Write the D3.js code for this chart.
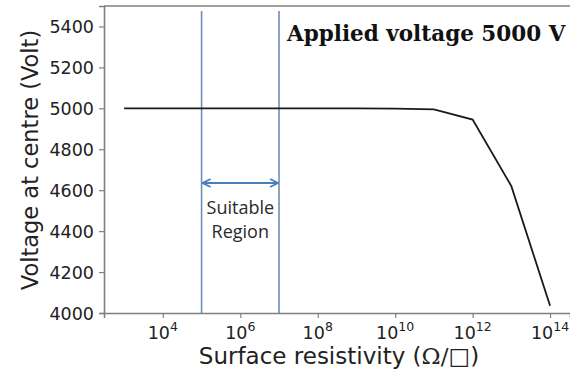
<!DOCTYPE html>
<html>
<head>
<meta charset="utf-8">
<script src="https://cdn.jsdelivr.net/npm/d3@7"></script>
<style>
  html, body { margin: 0; padding: 0; background: #fff; }
  svg { display: block; }
</style>
</head>
<body>
<svg id="chart" width="570" height="370"></svg>
<script>
// Surface resistivity (Ω/□) and the resulting voltage at the centre (V)
const resistivity = [1e3, 1e4, 1e5, 1e6, 1e7, 1e8, 1e9, 1e10, 1e11, 1e12, 1e13, 1e14];
const voltage     = [5000, 5000, 5000, 5000, 5000, 5000, 5000, 4999, 4995, 4945, 4620, 4035];
const xTickValues = [1e4, 1e6, 1e8, 1e10, 1e12, 1e14];
const yTickValues = [4000, 4200, 4400, 4600, 4800, 5000, 5200, 5400];
const regionBounds = [1e5, 1e7];
const titleText = "Applied voltage 5000 V";

const svg = d3.select("#chart");
const margin = { left: 104, top: 6, right: 0, bottom: 57 };
const W = 570, H = 370;

const x = d3.scaleLog()
  .domain([Math.pow(10, 2.48), Math.pow(10, 14.515)])
  .range([margin.left, W - margin.right]);
const y = d3.scaleLinear()
  .domain([4000, 5500])
  .range([H - margin.bottom, margin.top]);

const spine = "#808080";
const tickFont = "'DejaVu Sans', sans-serif";

// suitable region boundaries
svg.selectAll("line.bound").data(regionBounds).join("line")
  .attr("class", "bound")
  .attr("x1", d => x(d)).attr("x2", d => x(d))
  .attr("y1", margin.top + 5).attr("y2", H - margin.bottom)
  .attr("stroke", "#6a8fb8").attr("stroke-width", 1.6);

// double-headed arrow between the boundaries
const defs = svg.append("defs");
defs.append("marker").attr("id", "ah")
  .attr("viewBox", "0 0 10 10").attr("refX", 9).attr("refY", 5)
  .attr("markerWidth", 5).attr("markerHeight", 5)
  .attr("orient", "auto-start-reverse")
  .append("path").attr("d", "M1,1 L9,5 L1,9").attr("fill", "none")
  .attr("stroke", "#4a7ebb").attr("stroke-width", 1.8);
svg.append("line")
  .attr("x1", x(regionBounds[0]) + 1).attr("x2", x(regionBounds[1]) - 1)
  .attr("y1", 183).attr("y2", 183)
  .attr("stroke", "#4a7ebb").attr("stroke-width", 2)
  .attr("marker-start", "url(#ah)").attr("marker-end", "url(#ah)");

const midX = Math.sqrt(regionBounds[0] * regionBounds[1]);
const noteFont = "'Open Sans', sans-serif";
svg.append("text").attr("x", x(midX)).attr("y", 214)
  .attr("text-anchor", "middle").attr("font-family", noteFont)
  .attr("font-size", 18).attr("fill", "#2a2a2a").text("Suitable");
svg.append("text").attr("x", x(midX)).attr("y", 238)
  .attr("text-anchor", "middle").attr("font-family", noteFont)
  .attr("font-size", 18).attr("fill", "#2a2a2a").text("Region");

// voltage curve
const pts = resistivity.map((r, i) => [r, voltage[i]]);
svg.append("path").datum(pts)
  .attr("fill", "none").attr("stroke", "#1a1a1a").attr("stroke-width", 1.8)
  .attr("d", d3.line().x(d => x(d[0])).y(d => y(d[1])));

// axes
const xAxis = svg.append("g").attr("transform", `translate(0,${H - margin.bottom})`)
  .call(d3.axisBottom(x).tickValues(xTickValues).tickSizeOuter(0).tickSize(5).tickFormat(() => ""));
const yAxis = svg.append("g").attr("transform", `translate(${margin.left},0)`)
  .call(d3.axisLeft(y).tickValues(yTickValues).tickSizeOuter(0).tickSize(5).tickFormat(""));
[xAxis, yAxis].forEach(g => {
  g.select(".domain").attr("stroke", spine).attr("stroke-width", 1.6);
  g.selectAll(".tick line").attr("stroke", spine).attr("stroke-width", 1.2);
});
// top spine
svg.append("line").attr("x1", margin.left).attr("x2", W)
  .attr("y1", margin.top).attr("y2", margin.top)
  .attr("stroke", spine).attr("stroke-width", 1.6);

// y tick labels
svg.selectAll("text.ylab").data(yTickValues).join("text")
  .attr("class", "ylab")
  .attr("x", margin.left - 10).attr("y", d => y(d) + 6.5)
  .attr("text-anchor", "end").attr("font-family", tickFont)
  .attr("font-size", 17.5).attr("fill", "#222").text(d => d);

// x tick labels with superscript exponents
const xl = svg.selectAll("text.xlab").data(xTickValues).join("text")
  .attr("class", "xlab")
  .attr("x", d => x(d)).attr("y", H - margin.bottom + 26)
  .attr("text-anchor", "middle").attr("font-family", tickFont)
  .attr("font-size", 17.5).attr("fill", "#222");
xl.append("tspan").text("10");
xl.append("tspan").attr("dy", -8).attr("font-size", 12.5)
  .text(d => Math.round(Math.log10(d)));

// axis titles
const xTitle = svg.append("text")
  .attr("x", 339).attr("y", 364)
  .attr("text-anchor", "middle").attr("font-family", tickFont)
  .attr("font-size", 23).attr("fill", "#222");
xTitle.append("tspan").text("Surface resistivity (");
xTitle.append("tspan").attr("font-family", "'DejaVu Serif', serif").text("Ω/□");
xTitle.append("tspan").text(")");
svg.append("text")
  .attr("transform", `translate(38,160) rotate(-90)`)
  .attr("text-anchor", "middle").attr("font-family", tickFont)
  .attr("font-size", 22.5).attr("fill", "#222")
  .text("Voltage at centre (Volt)");

// annotation
svg.append("text").attr("x", 287).attr("y", 41)
  .attr("font-family", "'DejaVu Serif', serif").attr("font-weight", "bold")
  .attr("font-size", 21.5).attr("fill", "#111").text(titleText);
</script>
</body>
</html>
